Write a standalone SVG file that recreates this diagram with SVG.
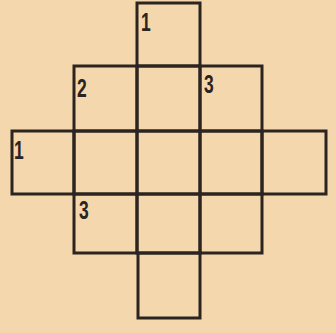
<svg xmlns="http://www.w3.org/2000/svg" width="336" height="333" viewBox="0 0 336 333">
<style>
.c{fill:none;stroke:#2b2420;stroke-width:3}
.n{font-family:"Liberation Sans",sans-serif;font-weight:bold;font-size:25px;fill:#2b2420}
</style>
<rect width="336" height="333" fill="#f4d7ad"/>
<g id="cells">
<g id="c-r0c2"><rect class="c" x="137" y="3" width="63" height="63"/></g>
<g id="c-r1c1"><rect class="c" x="74" y="66" width="63" height="65"/></g>
<g id="c-r1c2"><rect class="c" x="137" y="66" width="63" height="65"/></g>
<g id="c-r1c3"><rect class="c" x="200" y="66" width="62" height="65"/></g>
<g id="c-r2c0"><rect class="c" x="12" y="131" width="62" height="63"/></g>
<g id="c-r2c1"><rect class="c" x="74" y="131" width="63" height="63"/></g>
<g id="c-r2c2"><rect class="c" x="137" y="131" width="63" height="63"/></g>
<g id="c-r2c3"><rect class="c" x="200" y="131" width="62" height="63"/></g>
<g id="c-r2c4"><rect class="c" x="262" y="131" width="64" height="63"/></g>
<g id="c-r3c1"><rect class="c" x="74" y="194" width="63" height="59"/></g>
<g id="c-r3c2"><rect class="c" x="137" y="194" width="63" height="59"/></g>
<g id="c-r3c3"><rect class="c" x="200" y="194" width="62" height="59"/></g>
<g id="c-r4c2"><rect class="c" x="138" y="253" width="62" height="65"/></g>
</g>
<g id="labels">
<text class="n" transform="translate(141,31) scale(0.7,1)">1</text>
<text class="n" transform="translate(77,97) scale(0.7,1)">2</text>
<text class="n" transform="translate(204,93) scale(0.7,1)">3</text>
<text class="n" transform="translate(14,159) scale(0.7,1)">1</text>
<text class="n" transform="translate(79,219) scale(0.7,1)">3</text>
</g>
</svg>
